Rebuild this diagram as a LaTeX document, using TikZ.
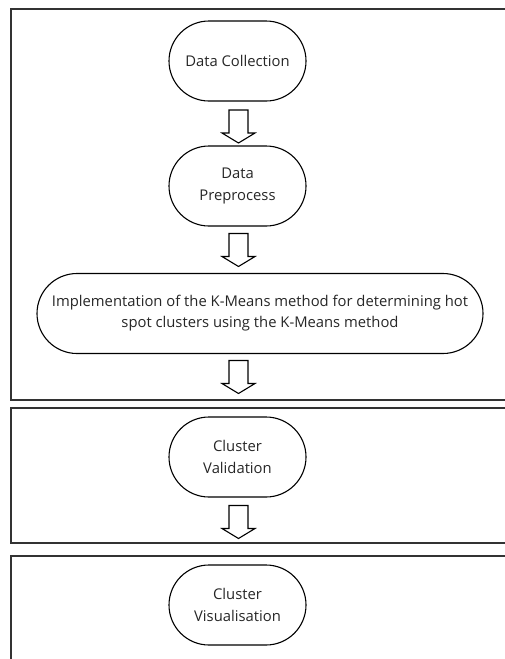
\documentclass[tikz,border=0pt]{standalone}
\usepackage{fontspec}
\setmainfont{Open Sans}
\usepackage{tikz}
\usetikzlibrary{shapes.misc}
\tikzset{
  stepnode/.style={rounded rectangle,draw=black,line width=1.1pt,minimum height=80pt,
    minimum width=141pt,inner sep=2pt,align=center,text=black!85,
    font=\fontsize{14.8}{22}\selectfont},
  widenode/.style={stepnode,minimum width=450pt,font=\fontsize{14.8}{21}\selectfont},
  blockarr/.pic={\draw[black,line width=1.1pt,line join=miter]
    (-9.5,-16.5) -- (9.5,-16.5) -- (9.5,6.5) -- (16.5,6.5) -- (0,16.5)
    -- (-16.5,6.5) -- (-9.5,6.5) -- cycle;},
  stagebox/.style={draw=black!80,line width=1.4pt},
}

\begin{document}
\begin{tikzpicture}[x=1pt,y=-1pt]
  \useasboundingbox (0,0) rectangle (505,659);
  \clip (0,0) rectangle (505,659);
  % stage frames
  \draw[stagebox] (11,9) rectangle (530,400);
  \draw[stagebox] (11,408) rectangle (530,543);
  \draw[stagebox] (11,556) rectangle (530,680);
  % steps
  \node[stepnode] (nCollect) at (237.5,61) {Data Collection};
  \node[stepnode] (nPrep) at (237.5,186) {Data\\Preprocess};
  \node[widenode] (nKmeans) at (260,313.5) {Implementation of the K-Means method for determining hot\\spot clusters using the K-Means method};
  \node[stepnode] (nValid) at (237.5,457) {Cluster\\Validation};
  \node[stepnode] (nVisual) at (237.5,605) {Cluster\\Visualisation};
  % hollow arrows between steps
  \pic at (238.5,126.5) {blockarr};
  \pic at (238.5,250) {blockarr};
  \pic at (238.5,377) {blockarr};
  \pic at (238.5,522) {blockarr};
\end{tikzpicture}
\end{document}
